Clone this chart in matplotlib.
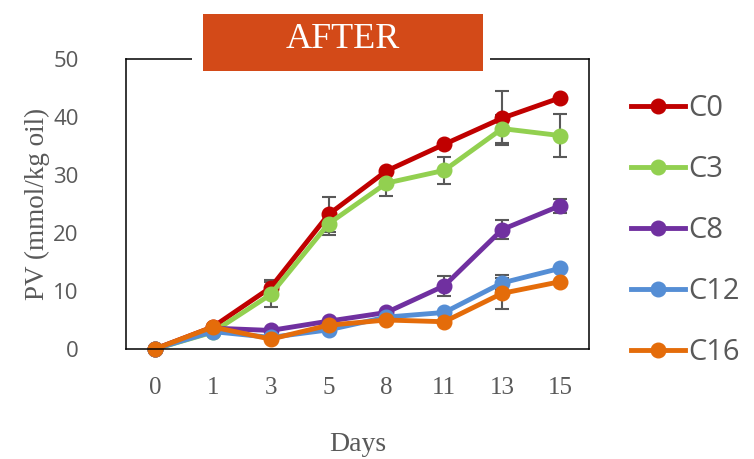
import matplotlib
matplotlib.use('Agg')
import matplotlib.pyplot as plt
from matplotlib.patches import Rectangle
import numpy as np

days = ['0', '1', '3', '5', '8', '11', '13', '15']
series = ['C0', 'C3', 'C8', 'C12', 'C16']

pv_c0 = [0, 3.8, 10.6, 23.2, 30.7, 35.3, 39.8, 43.3]
pv_c3 = [0, 2.9, 9.4, 21.6, 28.6, 30.8, 38.0, 36.8]
pv_c8 = [0, 3.6, 3.2, 4.8, 6.3, 10.9, 20.6, 24.7]
pv_c12 = [0, 3.0, 2.0, 3.3, 5.5, 6.3, 11.4, 13.9]
pv_c16 = [0, 3.8, 1.7, 4.1, 5.0, 4.7, 9.6, 11.6]

# standard deviations (0 = no bar shown)
sd_c0 = [0, 0, 1.3, 3.0, 0, 0, 4.7, 0]
sd_c3 = [0, 0, 2.2, 1.9, 2.2, 2.3, 2.4, 3.7]
sd_c8 = [0, 0, 0, 0, 0, 1.7, 1.6, 1.2]
sd_c12 = [0, 0, 0, 0, 0, 0, 1.3, 0]
sd_c16 = [0, 0, 0, 0, 0, 0, 2.7, 0]

colores = ['#C00000', '#92D050', '#7030A0', '#558ED5', '#E46C0A']

valores = [pv_c0, pv_c3, pv_c8, pv_c12, pv_c16]
errores = [sd_c0, sd_c3, sd_c8, sd_c12, sd_c16]

gris = '#595959'
W, H = 754, 459

fig = plt.figure(figsize=(W / 100, H / 100), dpi=100)
ax = fig.add_axes([126 / W, 1 - 349 / H, (589 - 126) / W, (349 - 59) / H])

x = np.arange(len(days))
for nombre, y, e, c in zip(series, valores, errores, colores):
    y = np.array(y)
    e = np.array(e)
    m = e > 0
    if m.any():
        ax.errorbar(x[m], y[m], yerr=e[m], fmt='none', ecolor=gris,
                    elinewidth=1.5, capsize=5, capthick=1.5, zorder=1)
    ax.plot(x, y, color=c, linewidth=3.5, marker='o', markersize=10.5,
            label=nombre, clip_on=False, zorder=2)

ax.set_xlim(-0.5, len(days) - 0.5)
ax.set_ylim(0, 50)
ax.set_yticks(np.arange(0, 51, 10))
ax.set_xticks(x)
ax.set_xticklabels(days, fontfamily='Liberation Serif', fontsize=18, color=gris)
for lbl in ax.get_yticklabels():
    lbl.set_fontfamily('Open Sans')
    lbl.set_fontsize(16)
    lbl.set_color(gris)
ax.tick_params(axis='both', length=0)
ax.tick_params(axis='y', pad=34)
ax.tick_params(axis='x', pad=20)

for s in ax.spines.values():
    s.set_color('black')
    s.set_linewidth(1.1)

ax.set_xlabel('Days', fontfamily='Liberation Serif', fontsize=20, color=gris, labelpad=24)
ax.set_ylabel('PV (mmol/kg oil)', fontfamily='Liberation Serif', fontsize=19.5,
              color=gris)
ax.yaxis.set_label_coords(-0.165, 0.5)

leg = ax.legend(loc='upper left', bbox_to_anchor=(1.065, 0.92), frameon=False,
                prop={'family': 'Open Sans', 'size': 21}, handlelength=1.85,
                handletextpad=0.12, labelspacing=1.1, borderaxespad=0)
for t in leg.get_texts():
    t.set_color(gris)

# title box over the top spine
fig.patches.append(Rectangle((192 / W, 1 - 68 / H), (490 - 192) / W, 20 / H,
                             transform=fig.transFigure, facecolor='white',
                             edgecolor='none', zorder=5))
fig.patches.append(Rectangle((203 / W, 1 - 71 / H), (483 - 203) / W, (71 - 14) / H,
                             transform=fig.transFigure, facecolor='#D34A18',
                             edgecolor='none', zorder=6))
fig.text(343 / W, 1 - 40 / H, 'AFTER', ha='center', va='center', color='white',
         fontfamily='Liberation Serif', fontsize=26, zorder=7)

fig.savefig('out.png', dpi=100)
